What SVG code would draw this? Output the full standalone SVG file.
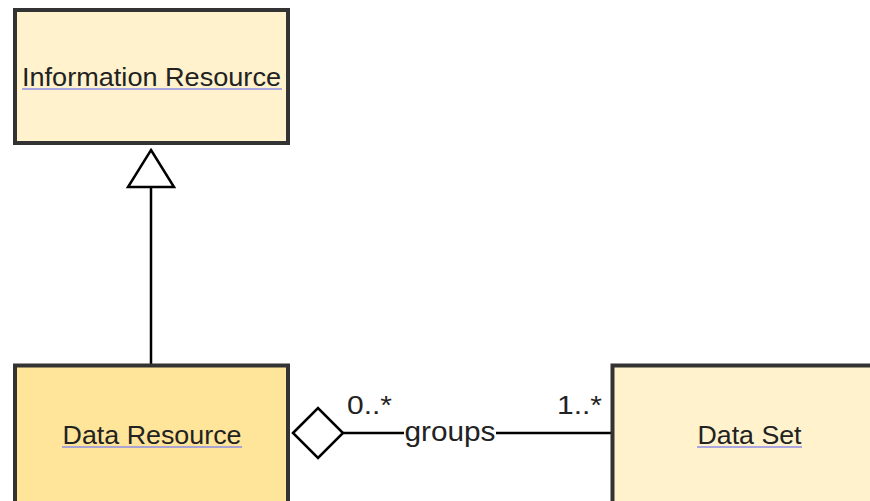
<svg xmlns="http://www.w3.org/2000/svg" width="870" height="501" viewBox="0 0 870 501">
<style>
.box{stroke:#333;stroke-width:4}
.lbl{font-family:"Liberation Sans",Arial,sans-serif;font-size:26px;fill:#222;text-anchor:middle}
.ul{stroke:#8c8ce8;stroke-width:1.6}
.edge{stroke:#000;stroke-width:2.5;fill:none}
.mult{font-family:"Liberation Sans",Arial,sans-serif;font-size:25px;fill:#222}
</style>
<rect width="870" height="501" fill="#fff"/>
<g id="connectors">
<line class="edge" x1="151" y1="187" x2="151" y2="365"/>
<polygon class="edge" fill="#fff" points="151,150 174,187 128,187"/>
<line class="edge" x1="343" y1="433" x2="612" y2="433"/>
<polygon class="edge" fill="#fff" points="293,433 318,408 343,433 318,458"/>
<rect x="404" y="418" width="92" height="30" fill="#fff"/>
<text class="lbl" x="450" y="441" style="font-size:27px" textLength="91" lengthAdjust="spacingAndGlyphs">groups</text>
<text class="mult" x="347" y="414" textLength="45" lengthAdjust="spacingAndGlyphs">0..*</text>
<text class="mult" x="557" y="414" textLength="45" lengthAdjust="spacingAndGlyphs">1..*</text>
</g>
<g id="information-resource">
<rect class="box" x="15" y="10" width="273" height="133" fill="#fff2cc"/>
<text class="lbl" x="151.5" y="86" textLength="259" lengthAdjust="spacingAndGlyphs">Information Resource</text>
<line class="ul" x1="22" y1="89" x2="282" y2="89"/>
</g>
<g id="data-resource">
<rect class="box" x="15" y="365.5" width="273" height="145" fill="#ffe599"/>
<text class="lbl" x="152" y="444" textLength="179" lengthAdjust="spacingAndGlyphs">Data Resource</text>
<line class="ul" x1="62" y1="447" x2="242" y2="447"/>
</g>
<g id="data-set">
<rect class="box" x="612.5" y="365.5" width="270" height="145" fill="#fff2cc"/>
<text class="lbl" x="749.5" y="444" textLength="104" lengthAdjust="spacingAndGlyphs">Data Set</text>
<line class="ul" x1="697" y1="447" x2="802" y2="447"/>
</g>
</svg>
